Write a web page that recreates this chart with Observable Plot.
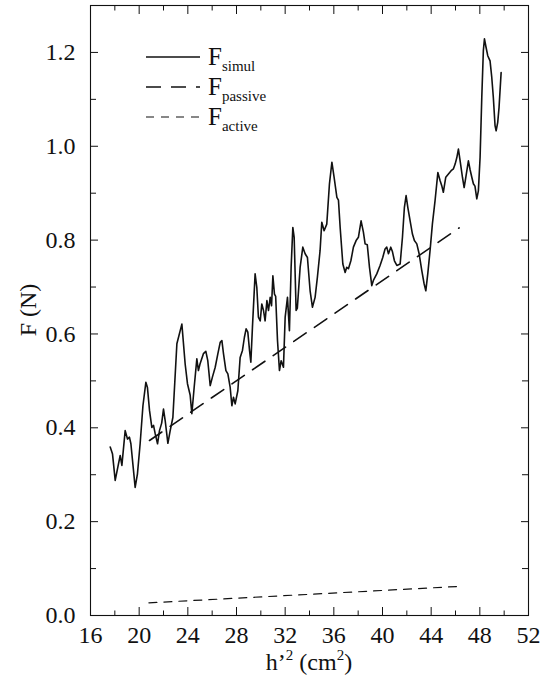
<!DOCTYPE html>
<html>
<head>
<meta charset="utf-8">
<script src="https://cdn.jsdelivr.net/npm/d3@7"></script>
<script src="https://cdn.jsdelivr.net/npm/@observablehq/plot@0.6"></script>
<style>
  html, body { margin: 0; padding: 0; background: #fff; }
  #chart svg { display: block; }
  #chart svg, #chart svg text { font-family: "Liberation Serif", "Times New Roman", Times, "DejaVu Serif", serif !important; }
</style>
</head>
<body>
<div id="chart"></div>
<script>
// ---- data ----
const simulX = [17.62,17.81,18.03,18.30,18.44,18.58,18.85,19.04,19.20,19.32,19.67,19.86,20.08,20.31,20.55,20.68,20.85,21.04,21.18,21.32,21.51,21.67,21.85,22.00,22.14,22.36,22.55,22.77,23.10,23.51,23.78,23.97,24.19,24.33,24.52,24.74,24.87,25.00,25.28,25.48,25.64,25.84,26.02,26.25,26.47,26.66,26.80,26.93,27.13,27.29,27.48,27.62,27.75,27.89,28.11,28.30,28.49,28.65,28.79,28.93,29.07,29.18,29.31,29.53,29.67,29.80,29.95,30.08,30.22,30.35,30.50,30.63,30.77,30.88,30.99,31.12,31.22,31.37,31.53,31.67,31.86,32.00,32.19,32.35,32.49,32.63,32.74,32.90,33.00,33.23,33.45,33.64,33.83,34.05,34.24,34.46,34.65,34.87,35.01,35.20,35.42,35.64,35.84,36.02,36.25,36.38,36.52,36.74,36.93,37.06,37.20,37.40,37.61,37.83,38.02,38.24,38.43,38.57,38.75,38.93,39.12,39.25,39.53,39.80,40.02,40.21,40.35,40.49,40.68,40.82,40.98,41.18,41.45,41.64,41.80,41.94,42.08,42.27,42.46,42.62,42.82,43.01,43.23,43.42,43.56,43.72,43.91,44.10,44.32,44.55,44.73,44.87,45.00,45.20,45.42,45.64,45.83,45.97,46.11,46.24,46.38,46.57,46.71,46.85,47.06,47.20,47.34,47.47,47.60,47.75,47.88,48.02,48.16,48.29,48.38,48.51,48.65,48.84,48.98,49.11,49.25,49.34,49.47,49.58,49.75];
const simulY = [0.359,0.344,0.288,0.323,0.341,0.320,0.394,0.376,0.380,0.366,0.273,0.302,0.366,0.447,0.497,0.486,0.437,0.401,0.405,0.387,0.366,0.394,0.410,0.440,0.415,0.367,0.394,0.422,0.579,0.621,0.536,0.494,0.470,0.430,0.486,0.547,0.522,0.536,0.558,0.563,0.543,0.490,0.508,0.529,0.558,0.582,0.586,0.558,0.522,0.515,0.486,0.447,0.465,0.451,0.479,0.550,0.565,0.593,0.611,0.604,0.565,0.540,0.614,0.728,0.699,0.636,0.628,0.664,0.650,0.628,0.671,0.650,0.678,0.660,0.724,0.685,0.680,0.586,0.522,0.543,0.529,0.636,0.678,0.607,0.742,0.827,0.806,0.650,0.655,0.742,0.785,0.771,0.763,0.692,0.657,0.678,0.721,0.778,0.838,0.820,0.834,0.920,0.966,0.934,0.891,0.885,0.827,0.749,0.731,0.742,0.739,0.756,0.785,0.799,0.806,0.841,0.817,0.792,0.790,0.742,0.703,0.714,0.728,0.746,0.763,0.781,0.785,0.771,0.785,0.775,0.756,0.746,0.749,0.806,0.870,0.895,0.870,0.841,0.813,0.799,0.792,0.771,0.735,0.707,0.692,0.728,0.778,0.834,0.884,0.944,0.927,0.916,0.902,0.934,0.941,0.948,0.952,0.962,0.976,0.994,0.969,0.934,0.912,0.934,0.969,0.950,0.934,0.920,0.915,0.888,0.905,0.976,1.104,1.204,1.229,1.211,1.193,1.182,1.147,1.104,1.044,1.033,1.051,1.083,1.157];
const passiveX = [20.85, 46.3];
const passiveY = [0.373, 0.826];
const activeX = [20.8, 46.3];
const activeY = [0.027, 0.062];

const xMajor = [16,20,24,28,32,36,40,44,48,52];
const xMinor = [18,22,26,30,34,38,42,46,50];
const yMajor = [0,0.2,0.4,0.6,0.8,1.0,1.2];
const yMinor = [0.1,0.3,0.5,0.7,0.9,1.1];
const yLabels = ["0.0","0.2","0.4","0.6","0.8","1.0","1.2"];

const seriesNames = ["simul", "passive", "active"];

// ---- build tables ----
const simul = simulX.map((x, i) => ({x, y: simulY[i]}));
const passive = passiveX.map((x, i) => ({x, y: passiveY[i]}));
const active = activeX.map((x, i) => ({x, y: activeY[i]}));

const INK = "#111";
const FONT = "Liberation Serif, Times New Roman, Times, DejaVu Serif, serif";
const blank = () => "";

const chart = Plot.plot({
  width: 545,
  height: 686,
  marginLeft: 90,
  marginRight: 17,
  marginTop: 5,
  marginBottom: 71,
  style: {fontFamily: FONT, fontSize: "23px", color: INK, background: "#fff"},
  x: {domain: [16, 52]},
  y: {domain: [0, 1.3]},
  marks: [
    Plot.frame({stroke: INK, strokeWidth: 1.1}),
    // inward ticks, all four sides
    Plot.axisX(xMajor, {anchor: "bottom", tickSize: -8, tickFormat: blank, label: null, stroke: INK}),
    Plot.axisX(xMinor, {anchor: "bottom", tickSize: -4.5, tickFormat: blank, label: null, stroke: INK}),
    Plot.axisX(xMajor, {anchor: "top", tickSize: -8, tickFormat: blank, label: null, stroke: INK}),
    Plot.axisX(xMinor, {anchor: "top", tickSize: -4.5, tickFormat: blank, label: null, stroke: INK}),
    Plot.axisY(yMajor, {anchor: "left", tickSize: -8, tickFormat: blank, label: null, stroke: INK}),
    Plot.axisY(yMinor, {anchor: "left", tickSize: -6, tickFormat: blank, label: null, stroke: INK}),
    Plot.axisY(yMajor, {anchor: "right", tickSize: -8, tickFormat: blank, label: null, stroke: INK}),
    Plot.axisY(yMinor, {anchor: "right", tickSize: -7, tickFormat: blank, label: null, stroke: INK}),
    // tick labels
    Plot.axisX(xMajor, {anchor: "bottom", tickSize: 0, tickPadding: 10, label: null, fontSize: 24, fill: INK}),
    Plot.axisY(yMajor, {anchor: "left", tickSize: 0, tickPadding: 15, label: null, fontSize: 24, fill: INK,
      tickFormat: (d, i) => yLabels[i]}),
    // series
    Plot.line(active, {x: "x", y: "y", stroke: INK, strokeWidth: 1.2, strokeDasharray: "8,7"}),
    Plot.line(passive, {x: "x", y: "y", stroke: INK, strokeWidth: 1.6, strokeDasharray: "15,10"}),
    Plot.line(simul, {x: "x", y: "y", stroke: INK, strokeWidth: 1.6, curve: "linear"})
  ]
});

document.getElementById("chart").appendChild(chart);

// ---- axis titles and in-plot legend (layout only) ----
const svgSel = d3.select(chart);
const xsc = chart.scale("x"), ysc = chart.scale("y");
const plotLeft = xsc.range[0], plotRight = xsc.range[1];
const plotBottom = ysc.range[0], plotTop = ysc.range[1];

// x title: h’² (cm²)
const xt = svgSel.append("text")
  .attr("x", (plotLeft + plotRight) / 2).attr("y", 670)
  .attr("text-anchor", "middle")
  .attr("font-family", FONT).attr("font-size", 24).attr("fill", INK);
xt.append("tspan").text("h’");
xt.append("tspan").attr("font-size", 15).attr("dy", -10).text("2");
xt.append("tspan").attr("dy", 10).text(" (cm");
xt.append("tspan").attr("font-size", 15).attr("dy", -10).text("2");
xt.append("tspan").attr("dy", 10).text(")");

// y title: F (N)
svgSel.append("text")
  .attr("transform", `translate(36,${(plotTop + plotBottom) / 2}) rotate(-90)`)
  .attr("text-anchor", "middle")
  .attr("font-family", FONT).attr("font-size", 24).attr("fill", INK)
  .text("F (N)");

// legend
const legendDash = [null, "15,10", "8,7"];
const legendWidth = [1.6, 1.6, 1.2];
const lg = svgSel.append("g").attr("text-anchor", "start");
seriesNames.forEach((name, i) => {
  const cy = 57 + i * 30;
  lg.append("line")
    .attr("x1", 146).attr("x2", 200).attr("y1", cy).attr("y2", cy)
    .attr("stroke", INK).attr("stroke-width", legendWidth[i])
    .attr("stroke-dasharray", legendDash[i]);
  const t = lg.append("text")
    .attr("x", 208).attr("y", cy + 8)
    .attr("text-anchor", "start")
    .attr("font-family", FONT).attr("font-size", 25).attr("fill", INK);
  t.append("tspan").text("F");
  t.append("tspan").attr("font-size", 15).attr("dy", 6).text(name);
});
</script>
</body>
</html>
